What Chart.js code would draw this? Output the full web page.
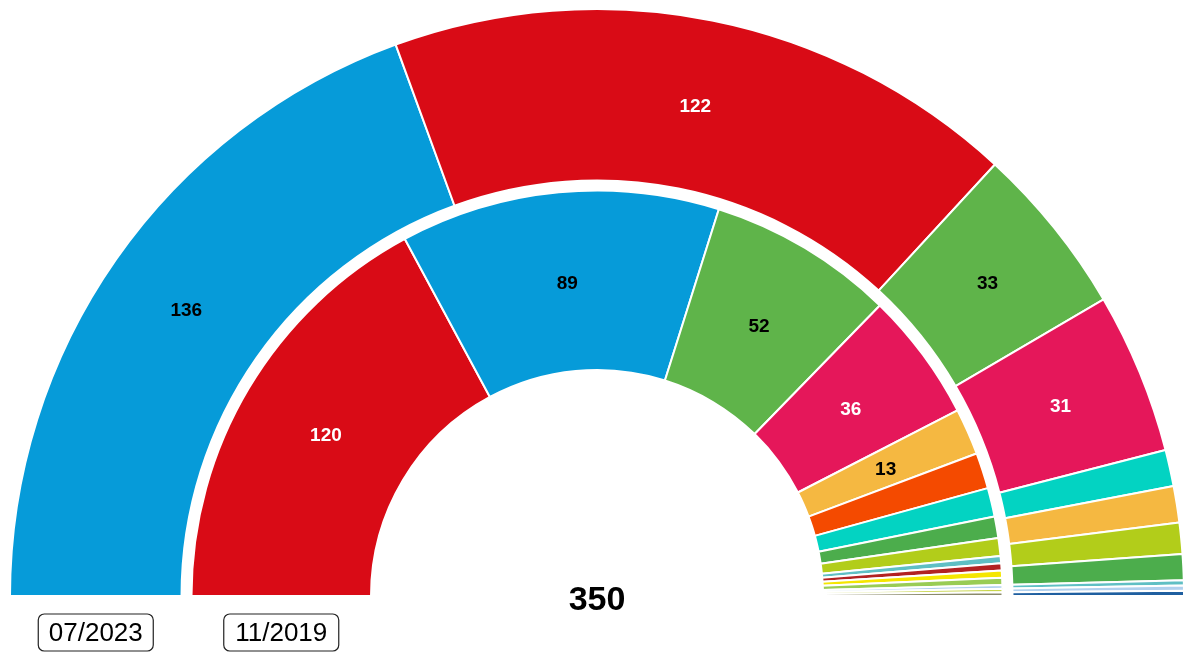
<!DOCTYPE html>
<html>
<head>
<meta charset="utf-8">
<title>Congreso</title>
<script src="https://cdn.jsdelivr.net/npm/chart.js@4/dist/chart.umd.min.js"></script>
<style>
  html, body { margin: 0; padding: 0; background: #fff; overflow: hidden; }
  #wrap { width: 1184px; height: 653px; position: relative; overflow: hidden; }
</style>
</head>
<body>
<div id="wrap"><canvas id="chart" width="1186" height="653"></canvas></div>
<script>
// 07/2023 (outer ring)
const seats2023 = [136, 122, 33, 31, 7, 7, 6, 5, 1, 1, 1];
const colors2023 = ['#069bd9', '#d90b16', '#5fb44a', '#e5175a', '#03d3c2', '#f5b841', '#b2cd1a', '#4cad4c', '#5fbfc4', '#b0d0ee', '#1f5fa0'];

// 11/2019 (inner ring)
const seats2019 = [120, 89, 52, 36, 13, 10, 8, 6, 5, 2, 2, 2, 2, 1, 1, 1];
const colors2019 = ['#d90b16', '#069bd9', '#5fb44a', '#e5175a', '#f5b841', '#f44a00', '#03d3c2', '#4cad4c', '#b2cd1a', '#5fbfc4', '#b22222', '#f5e600', '#99cc55', '#b0d0ee', '#c8d64b', '#8a8a6a'];

const ringLabels = ['07/2023', '11/2019'];
const totalSeats = 350;

const whiteText = ['#d90b16', '#e5175a'];

const labelsPlugin = {
  id: 'seatLabels',
  afterDraw(chart) {
    const ctx = chart.ctx;
    ctx.save();
    ctx.textAlign = 'center';
    ctx.textBaseline = 'middle';
    ctx.font = 'bold 19px "Liberation Sans", Arial, sans-serif';
    [0, 2].forEach(di => {
      const ds = chart.data.datasets[di];
      chart.getDatasetMeta(di).data.forEach((arc, i) => {
        const v = ds.data[i];
        if (v < 12) return;
        const p = arc.tooltipPosition();
        ctx.fillStyle = whiteText.includes(ds.backgroundColor[i]) ? '#fff' : '#000';
        ctx.fillText(v, p.x, p.y + 2);
      });
    });

    // ring captions under each ring
    ctx.font = '26px "Liberation Sans", Arial, sans-serif';
    [0, 2].forEach((di, k) => {
      const arc = chart.getDatasetMeta(di).data[0];
      const mid = (arc.innerRadius + arc.outerRadius) / 2;
      const cx = arc.x - mid;
      const w = 115, h = 37, y = 614;
      ctx.beginPath();
      ctx.roundRect(cx - w / 2, y, w, h, 6);
      ctx.fillStyle = '#fff';
      ctx.fill();
      ctx.lineWidth = 1.2;
      ctx.strokeStyle = '#222';
      ctx.stroke();
      ctx.fillStyle = '#000';
      ctx.fillText(ringLabels[k], cx, y + h / 2 + 1);
    });

    const a0 = chart.getDatasetMeta(0).data[0];
    ctx.font = 'bold 34px "Liberation Sans", Arial, sans-serif';
    ctx.fillStyle = '#000';
    ctx.fillText(totalSeats, a0.x, 601);
    ctx.restore();
  }
};

new Chart(document.getElementById('chart'), {
  type: 'doughnut',
  data: {
    labels: seats2019.map((_, i) => i),
    datasets: [
      { label: ringLabels[0], data: seats2023, backgroundColor: colors2023, borderColor: '#fff', borderWidth: 2, weight: 172 },
      { label: '', data: [1], backgroundColor: 'rgba(0,0,0,0)', borderWidth: 0, weight: 10 },
      { label: ringLabels[1], data: seats2019, backgroundColor: colors2019, borderColor: '#fff', borderWidth: 2, weight: 180 }
    ]
  },
  options: {
    responsive: false,
    animation: false,
    rotation: -90,
    circumference: 180,
    cutout: '38.5%',
    layout: { padding: { top: 8, left: 8, right: 0, bottom: 56 } },
    plugins: {
      legend: { display: false },
      tooltip: { enabled: false }
    }
  },
  plugins: [labelsPlugin]
});
</script>
</body>
</html>
